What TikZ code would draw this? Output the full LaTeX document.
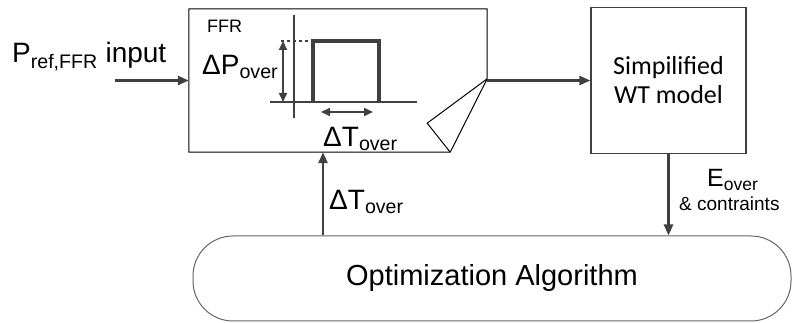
\documentclass[tikz,border=0pt]{standalone}
\usepackage{fontspec}
\setmainfont{Liberation Sans}
\newfontfamily\wtfont{Carlito}
\usetikzlibrary{arrows.meta,calc}
\definecolor{linegray}{HTML}{404040}

\begin{document}
\begin{tikzpicture}[
  x=1pt, y=1pt,
  >={Triangle[length=11pt,width=9pt]},
  every node/.style={font=\fontsize{28}{32}\selectfont, inner sep=0pt},
  flow/.style={->, line width=2.5pt, draw=linegray},
  pulse/.style={line width=3.5pt, draw=linegray},
  axis/.style={line width=2pt, draw=linegray},
  dim/.style={axis, {Triangle[length=9pt,width=8pt]}-{Triangle[length=9pt,width=8pt]}}
]
  \useasboundingbox (0,0) rectangle (792,323);

  % blocks
  \node[minimum width=298, minimum height=143] (ffr) at (338,242.5) {};
  \node[draw=linegray, line width=1.2pt, minimum width=155, minimum height=146,
        align=center, font=\wtfont\fontsize{26}{29}\selectfont] (wt) at (668.5,242.5) {Simpilified\\WT model};
  \node[draw=linegray!80, line width=1pt, rounded corners=40, minimum width=598, minimum height=85,
        font=\fontsize{29}{34}\selectfont] (opt) at (492,44.5) {Optimization Algorithm};

  % FFR outline with folded corner
  \draw[line width=1pt] (ffr.north west) -- (ffr.north east) -- ($(ffr.north east)+(0,-70)$) coordinate (fold1)
    -- ($(ffr.south east)+(-37,0)$) coordinate (fold2) -- (ffr.south west) -- cycle;
  \draw[line width=1pt] (fold1) -- ($(ffr.south east)+(-60,29)$) -- (fold2);
  \node[anchor=base west, font=\fontsize{18}{20}\selectfont] (ffrlabel) at (207,290) {FFR};

  % overfrequency pulse
  \draw[axis] (294,308) -- (294,205);
  \draw[axis] (270,221) -- (417,221);
  \draw[pulse] (313,221) -- (313,282) -- (379,282) -- (379,221);
  \draw[axis, dashed, line width=1.5pt] (281,282) -- (313,282);
  \draw[dim] (283,282) -- (283,221);
  \draw[dim] (321,211) -- (373,211);
  \node[anchor=base west] (dp) at (202,248) {ΔP\textsubscript{over}};
  \node[anchor=base west] (dt) at (323,176) {ΔT\textsubscript{over}};

  % signals
  \node[anchor=base west] (pin) at (12,260) {P\textsubscript{ref,FFR} input};
  \coordinate (src) at (115,242.5);
  \draw[flow] (src) -- (ffr.west);
  \draw[flow] (ffr.east) -- (wt.west);
  \coordinate (tx) at (323,0);
  \draw[flow] (opt.north -| tx) -- (ffr.south -| tx);
  \draw[flow] (wt.south) -- (wt.south |- opt.north);
  \node[anchor=base west] (dtback) at (329,113) {ΔT\textsubscript{over}};
  \node[anchor=base west, font=\fontsize{25}{30}\selectfont] (eover) at (707,136) {E\textsubscript{over}};
  \node[anchor=base west, font=\fontsize{19}{22}\selectfont] (cons) at (679,112) {\& contraints};
\end{tikzpicture}
\end{document}
